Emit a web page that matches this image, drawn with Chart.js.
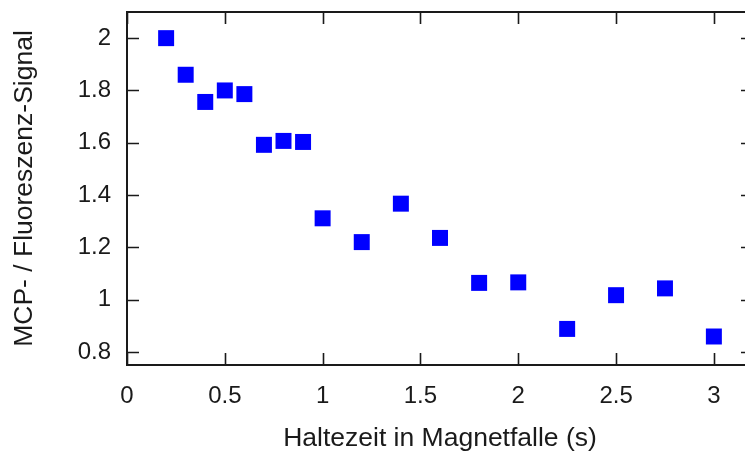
<!DOCTYPE html>
<html>
<head>
<meta charset="utf-8">
<script src="https://cdn.jsdelivr.net/npm/chart.js@4.4.1/dist/chart.umd.min.js"></script>
<style>
  html, body { margin: 0; padding: 0; background: #fff; overflow: hidden; }
  #wrap { width: 745px; height: 456px; overflow: hidden; }
  canvas { display: block; }
</style>
</head>
<body>
<div id="wrap"><canvas id="c" width="753" height="456"></canvas></div>
<script>
// Haltezeit (s) und gemessenes Signal
const holdTimes = [0.2, 0.3, 0.4, 0.5, 0.6, 0.7, 0.8, 0.9, 1.0, 1.2, 1.4, 1.6, 1.8, 2.0, 2.25, 2.5, 2.75, 3.0];
const signal    = [2.00, 1.86, 1.756, 1.80, 1.786, 1.592, 1.607, 1.603, 1.311, 1.22, 1.367, 1.236, 1.064, 1.066, 0.888, 1.017, 1.043, 0.859];

const xTickValues = [0, 0.5, 1, 1.5, 2, 2.5, 3];
const xTickLabels = ['0', '0.5', '1', '1.5', '2', '2.5', '3'];
const yTickValues = [0.8, 1.0, 1.2, 1.4, 1.6, 1.8, 2.0];
const yTickLabels = ['0.8', '1', '1.2', '1.4', '1.6', '1.8', '2'];

const xTitle = 'Haltezeit in Magnetfalle (s)';
const yTitle = 'MCP- / Fluoreszenz-Signal';

const FONT = '"Liberation Sans", Arial, sans-serif';
const INK = '#1a1a1a';

// Rahmen mit nach innen zeigenden Tickmarken auf allen vier Seiten
const boxTicks = {
  id: 'boxTicks',
  afterDatasetsDraw(chart) {
    const { ctx, chartArea: a, scales } = chart;
    const len = 12;
    ctx.save();
    ctx.strokeStyle = INK;
    ctx.lineWidth = 1.6;
    ctx.beginPath();
    for (const v of xTickValues) {
      const px = Math.round(scales.x.getPixelForValue(v)) + 0.5;
      ctx.moveTo(px, a.bottom); ctx.lineTo(px, a.bottom - len);
      ctx.moveTo(px, a.top); ctx.lineTo(px, a.top + len);
    }
    for (const v of yTickValues) {
      const py = Math.round(scales.y.getPixelForValue(v)) + 0.5;
      ctx.moveTo(a.left, py); ctx.lineTo(a.left + len, py);
      ctx.moveTo(a.right, py); ctx.lineTo(a.right - len, py);
    }
    ctx.stroke();
    ctx.lineWidth = 2;
    ctx.strokeRect(a.left, a.top, a.right - a.left, a.bottom - a.top);
    ctx.restore();
  }
};

new Chart(document.getElementById('c'), {
  type: 'scatter',
  data: {
    datasets: [{
      data: holdTimes.map((t, i) => ({ x: t, y: signal[i] })),
      pointStyle: 'rect',
      pointRadius: 11.3,
      pointHoverRadius: 11.3,
      backgroundColor: '#0000ff',
      borderColor: '#0000ff',
      borderWidth: 0
    }]
  },
  options: {
    responsive: false,
    animation: false,
    events: [],
    layout: { autoPadding: false, padding: { top: 12, right: 0, left: 0, bottom: 0 } },
    plugins: { legend: { display: false }, tooltip: { enabled: false } },
    scales: {
      x: {
        type: 'linear',
        min: 0,
        max: 3.2,
        afterBuildTicks(scale) { scale.ticks = xTickValues.map(v => ({ value: v })); },
        afterFit(scale) { scale.height = 91; scale.paddingLeft = 0; scale.paddingRight = 0; },
        grid: { display: false, drawTicks: false },
        border: { display: false },
        ticks: {
          padding: 17,
          color: INK,
          font: { family: FONT, size: 24 },
          maxRotation: 0,
          callback: (v) => xTickLabels[xTickValues.indexOf(v)]
        },
        title: {
          display: true,
          text: xTitle,
          color: INK,
          font: { family: FONT, size: 26.5 },
          padding: { top: 0, bottom: 1 }
        }
      },
      y: {
        type: 'linear',
        min: 0.75,
        max: 2.1,
        afterBuildTicks(scale) { scale.ticks = yTickValues.map(v => ({ value: v })); },
        afterFit(scale) { scale.width = 127; scale.paddingTop = 0; scale.paddingBottom = 0; },
        grid: { display: false, drawTicks: false },
        border: { display: false },
        ticks: {
          padding: 16,
          color: INK,
          font: { family: FONT, size: 24 },
          callback: (v) => yTickLabels[yTickValues.findIndex(t => Math.abs(t - v) < 1e-9)]
        },
        title: {
          display: true,
          text: yTitle,
          color: INK,
          font: { family: FONT, size: 26.5 },
          padding: { top: 9, bottom: 0 }
        }
      }
    }
  },
  plugins: [boxTicks]
});
</script>
</body>
</html>
